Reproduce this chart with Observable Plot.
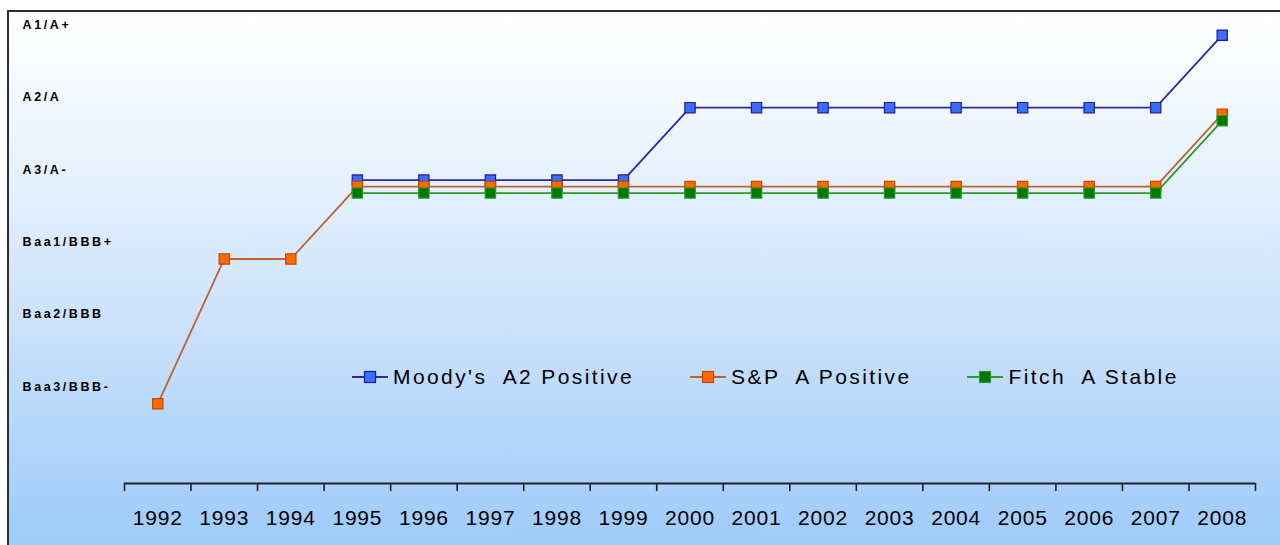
<!DOCTYPE html>
<html><head><meta charset="utf-8">
<script src="https://cdn.jsdelivr.net/npm/d3@7"></script>
<script src="https://cdn.jsdelivr.net/npm/@observablehq/plot@0.6"></script>
<style>
html,body{margin:0;padding:0;background:#fff;}
#wrap{position:relative;width:1280px;height:545px;overflow:hidden;font-family:"Liberation Sans",Arial,sans-serif;}
#bg{position:absolute;left:7px;top:10px;width:1290px;height:560px;box-sizing:border-box;border-top:2.5px solid #2e2e2e;border-left:2px solid #2e2e2e;
 background:linear-gradient(to bottom,#ffffff 0%,#f6faff 12%,#e6f1fd 30%,#cfe4fb 52%,#b8d8fa 72%,#a2cdf9 92%,#9ccaf9 100%);}
#plot{position:absolute;left:0;top:0;}
#legend{position:absolute;left:352px;top:364px;display:flex;gap:56px;font-size:21px;color:#000;white-space:pre;letter-spacing:2.4px;}
#legend .item{display:flex;align-items:center;gap:5px;height:26px;}
#plot svg g[aria-label="y-axis tick label"] text{letter-spacing:2.6px;}
#plot svg g[aria-label="x-axis tick label"] text{letter-spacing:0.8px;}
</style></head>
<body><div id="wrap"><div id="bg"></div><div id="plot"></div><div id="legend"></div></div>
<script>
const years = [1992,1993,1994,1995,1996,1997,1998,1999,2000,2001,2002,2003,2004,2005,2006,2007,2008];
const ratingLabels = ["Baa3/BBB-","Baa2/BBB","Baa1/BBB+","A3/A-","A2/A","A1/A+"];
const ratingTicks = [0,1,2,3,4,5];
const seriesNames = ["Moody's  A2 Positive","S&P  A Positive","Fitch  A Stable"];
const moodys = [null,null,null,3,3,3,3,3,4,4,4,4,4,4,4,4,5];
const sp     = [0,2,2,3,3,3,3,3,3,3,3,3,3,3,3,3,4];
const fitch  = [null,null,null,3,3,3,3,3,3,3,3,3,3,3,3,3,4];

const seriesValues = [moodys, sp, fitch];
const lineColors = ["#2a2a9e","#c0622e","#2c9a2c"];
const fillColors = ["#3b6ef5","#ff6a00","#007800"];
const strokeColors = ["#1c1ca0","#c24800","#2a9a2a"];
const offsets = [-6.5, 0, 6.5];

const rows = seriesValues.map((vals, s) =>
  years.map((yr, i) => ({year: yr, value: vals[i], series: seriesNames[s]})).filter(d => d.value != null));

const edges = years.map(y => y - 0.5).concat([years[years.length - 1] + 0.5]);

const seriesMarks = [];
rows.forEach((data, s) => {
  seriesMarks.push(Plot.line(data, {x: "year", y: "value", stroke: lineColors[s], strokeWidth: 1.8, dy: offsets[s]}));
});
rows.forEach((data, s) => {
  seriesMarks.push(Plot.dot(data, {x: "year", y: "value", symbol: "square", r: 5.8, fill: fillColors[s], stroke: strokeColors[s], strokeWidth: 1.2, dy: offsets[s]}));
});

const chart = Plot.plot({
  width: 1280, height: 545,
  marginLeft: 124, marginRight: 25, marginTop: 5, marginBottom: 62,
  x: {type: "linear", domain: [edges[0], edges[edges.length - 1]], label: null},
  y: {domain: [-1.1, 5.5], label: null},
  style: {background: "transparent", fontFamily: "Liberation Sans, Arial, sans-serif", color: "#000", overflow: "visible"},
  marks: [
    Plot.ruleY([-1.1], {stroke: "#222", strokeWidth: 1.8}),
    Plot.axisX({ticks: edges, tickFormat: () => "", tickSize: 8, stroke: "#222", strokeWidth: 1.6}),
    Plot.axisX({ticks: years, tickSize: 0, tickPadding: 27, tickFormat: d => String(d), fontSize: 21, fill: "#000"}),
    Plot.axisY({ticks: ratingTicks, tickSize: 0, tickPadding: 102, textAnchor: "start", dy: -17,
      tickFormat: i => ratingLabels[i], fontSize: 12.5, fontWeight: "bold", fill: "#000"}),
    ...seriesMarks
  ]
});
document.getElementById("plot").appendChild(chart);

const legend = document.getElementById("legend");
seriesNames.forEach((name, s) => {
  const item = document.createElement("div");
  item.className = "item";
  item.innerHTML = `<svg width="36" height="14"><line x1="0" x2="36" y1="7" y2="7" stroke="${lineColors[s]}" stroke-width="1.8"/>` +
    `<rect x="12.5" y="1.5" width="11" height="11" fill="${fillColors[s]}" stroke="${strokeColors[s]}" stroke-width="1.2"/></svg>` +
    `<span>${name}</span>`;
  legend.appendChild(item);
});
</script></body></html>
